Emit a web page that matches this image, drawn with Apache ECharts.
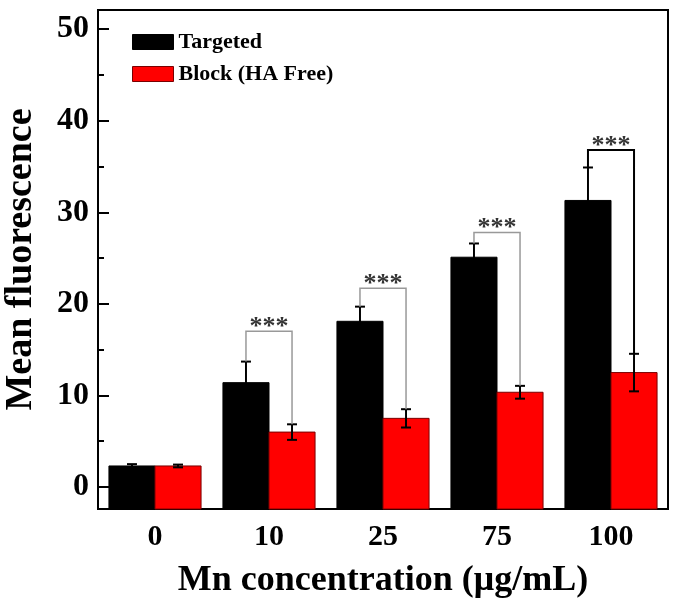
<!DOCTYPE html>
<html>
<head>
<meta charset="utf-8">
<script src="https://cdn.jsdelivr.net/npm/echarts@6/dist/echarts.min.js"></script>
<style>
  html, body { margin: 0; padding: 0; background: #fff; }
  #chart { width: 675px; height: 600px; }
</style>
</head>
<body>
<div id="chart"></div>
<script>
// values
const categories = ['0', '10', '25', '75', '100'];
const targeted = [2.3, 11.4, 18.1, 25.1, 31.3];
const targetedErr = [0.2, 2.3, 1.6, 1.5, 3.6];
const block = [2.3, 6.0, 7.5, 10.35, 12.5];
const blockErr = [0.15, 0.85, 1.0, 0.7, 2.05];
const sigHeights = [null, 17.0, 21.7, 27.8, 36.8];
const sigLabels = ['', '***', '***', '***', '***'];
const yTicks = [0, 10, 20, 30, 40, 50];
const yMinorTicks = [5, 15, 25, 35, 45];

const yMin = -2.4;
const yMax = 52.1;
const font = 'Liberation Serif';

const chart = echarts.init(document.getElementById('chart'));

function barRenderer(side, stroke) {
  return function(params, api) {
    const i = api.value(0);
    const v = api.value(1);
    const e = api.value(2);
    const top = api.coord([i, v]);
    const base = api.coord([i, yMin])[1];
    const band = api.size([1, 0])[0];
    const w = band * 0.404;
    const x0 = side < 0 ? top[0] - w : top[0];
    const cx = x0 + w / 2;
    const yHi = api.coord([i, v + e])[1];
    const yLo = api.coord([i, v - e])[1];
    const errStyle = { stroke: '#000', lineWidth: 2 };
    return {
      type: 'group',
      children: [
        {
          type: 'rect',
          shape: { x: x0, y: top[1], width: w, height: base - top[1] },
          style: { fill: api.visual('color'), stroke: stroke, lineWidth: 1 }
        },
        { type: 'line', shape: { x1: cx, y1: yHi, x2: cx, y2: yLo }, style: errStyle },
        { type: 'line', shape: { x1: cx - 5, y1: yHi, x2: cx + 5, y2: yHi }, style: errStyle },
        { type: 'line', shape: { x1: cx - 5, y1: yLo, x2: cx + 5, y2: yLo }, style: errStyle }
      ]
    };
  };
}

function bracketRenderer(params, api) {
  const i = api.value(0);
  const h = api.value(1);
  const band = api.size([1, 0])[0];
  const w = band * 0.404;
  const c = api.coord([i, h]);
  const xl = c[0] - w / 2;
  const xr = c[0] + w / 2;
  const yl = api.coord([i, api.value(2)])[1];
  const yr = api.coord([i, api.value(3)])[1];
  const dark = i === categories.length - 1;
  const st = { stroke: dark ? '#000' : '#999', lineWidth: dark ? 2 : 1.5 };
  return {
    type: 'group',
    children: [
      { type: 'polyline', shape: { points: [[xl, yl], [xl, c[1]], [xr, c[1]], [xr, yr]] }, style: Object.assign({ fill: 'none' }, st) },
      {
        type: 'text',
        x: c[0], y: c[1] - 4,
        style: {
          text: sigLabels[i],
          fill: '#333',
          font: 'bold 26px "' + font + '"',
          align: 'center',
          verticalAlign: 'middle'
        }
      }
    ]
  };
}

const bracketData = [];
sigHeights.forEach((h, i) => {
  if (h != null) {
    bracketData.push([i, h, targeted[i] + targetedErr[i], block[i] + blockErr[i]]);
  }
});

const option = {
  animation: false,
  backgroundColor: '#fff',
  textStyle: { fontFamily: font },
  grid: {
    left: 98, right: 7, top: 10, bottom: 91,
    outerBoundsMode: 'none',
    show: true, borderColor: '#000', borderWidth: 2, backgroundColor: 'transparent'
  },
  legend: {
    orient: 'vertical',
    left: 132, top: 31,
    padding: 0,
    itemWidth: 41, itemHeight: 15, itemGap: 10,
    icon: 'rect',
    textStyle: { fontFamily: font, fontWeight: 'bold', fontSize: 22, color: '#000', lineHeight: 15 },
    data: [
      { name: 'Targeted', itemStyle: { color: '#000', borderColor: '#000', borderWidth: 1 } },
      { name: 'Block (HA Free)', itemStyle: { color: '#ff0000', borderColor: '#7a0000', borderWidth: 1 } }
    ]
  },
  xAxis: {
    type: 'category',
    data: categories,
    boundaryGap: true,
    name: 'Mn concentration (μg/mL)',
    nameLocation: 'middle',
    nameGap: 54,
    nameTextStyle: { fontFamily: font, fontWeight: 'bold', fontSize: 36, color: '#000' },
    axisLine: { onZero: false, lineStyle: { color: '#000', width: 2 } },
    axisTick: { show: false },
    axisLabel: { fontFamily: font, fontWeight: 'bold', fontSize: 30, color: '#000', margin: 13 },
    splitLine: { show: false }
  },
  yAxis: [
    {
      type: 'value',
      min: yMin, max: yMax,
      name: 'Mean fluorescence',
      nameLocation: 'middle',
      nameGap: 58,
      nameTextStyle: { fontFamily: font, fontWeight: 'bold', fontSize: 38, color: '#000' },
      axisLine: { show: true, lineStyle: { color: '#000', width: 2 } },
      axisTick: { show: true, inside: true, length: 11, lineStyle: { color: '#000', width: 2 }, customValues: yTicks },
      axisLabel: { fontFamily: font, fontWeight: 'bold', fontSize: 32, color: '#000', margin: 9, customValues: yTicks },
      splitLine: { show: false }
    },
    {
      type: 'value',
      min: yMin, max: yMax,
      position: 'left',
      axisLine: { show: false },
      axisTick: { show: true, inside: true, length: 6, lineStyle: { color: '#000', width: 2 }, customValues: yMinorTicks },
      axisLabel: { show: false },
      splitLine: { show: false }
    }
  ],
  series: [
    {
      name: 'Targeted',
      type: 'custom',
      itemStyle: { color: '#000' },
      encode: { x: 0, y: 1 },
      renderItem: barRenderer(-1, '#000'),
      data: targeted.map((v, i) => [i, v, targetedErr[i]])
    },
    {
      name: 'Block (HA Free)',
      type: 'custom',
      itemStyle: { color: '#ff0000' },
      encode: { x: 0, y: 1 },
      renderItem: barRenderer(1, '#7a0000'),
      data: block.map((v, i) => [i, v, blockErr[i]])
    },
    {
      name: 'sig',
      type: 'custom',
      encode: { x: 0, y: 1 },
      renderItem: bracketRenderer,
      data: bracketData,
      z: 3
    }
  ]
};

chart.setOption(option);
</script>
</body>
</html>
